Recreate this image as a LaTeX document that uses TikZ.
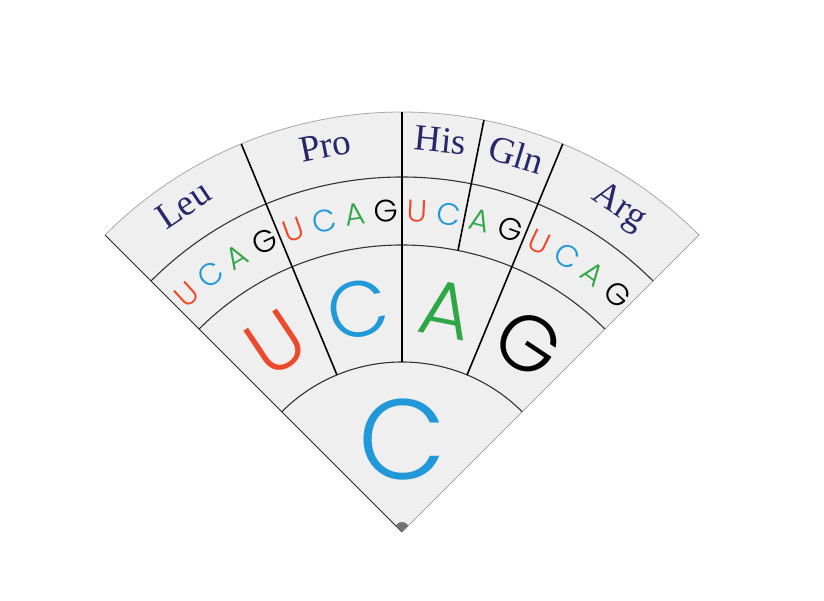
\documentclass[tikz,border=0pt]{standalone}
\usepackage{fontspec}
\setmainfont{Liberation Serif}
\IfFontExistsTF{Poppins Light}{\newfontfamily\basefont{Poppins Light}}{\newfontfamily\basefont{Poppins}}
\usetikzlibrary{positioning}
\definecolor{Card}{HTML}{EFEFEF}
\definecolor{Edge}{HTML}{A8A8A8}
\definecolor{Red}{HTML}{EC4A2C}
\definecolor{Blue}{HTML}{2199D8}
\definecolor{Green}{HTML}{2EA846}
\definecolor{Navy}{HTML}{27276A}

\begin{document}
\begin{tikzpicture}[x=1pt,y=1pt,
  ring/.style={draw=black!80,line width=1.1pt},
  spoke/.style={draw=black,line width=1.6pt},
  firstbase/.style={font=\basefont\fontsize{114}{114}\selectfont,inner sep=0pt},
  bigbase/.style={font=\basefont\fontsize{79}{79}\selectfont,inner sep=0pt},
  smallbase/.style={font=\basefont\fontsize{31}{31}\selectfont,inner sep=0pt},
  amino/.style={font=\fontsize{37}{37}\selectfont,text=Navy,inner sep=0pt,text height=0.66em,text depth=0.2em}
]
\useasboundingbox (0,0) rectangle (824,600);
\begin{scope}[shift={(402,68)}]
% card
\fill[Card] (0,0) -- (45:420) arc[start angle=45,end angle=135,radius=420] -- cycle;
\draw[Edge,line width=0.8pt] (0,0) -- (45:420) arc[start angle=45,end angle=135,radius=420];
\draw[black!85,line width=1pt] (0,0) -- (135:420);
\begin{scope}
\clip (0,0) -- (45:420) arc[start angle=45,end angle=135,radius=420] -- cycle;
\fill[black!55] (90:3) circle (7);
\end{scope}
% rings
\draw[ring] (45:170) arc[start angle=45,end angle=135,radius=170];
\draw[ring] (45:287) arc[start angle=45,end angle=135,radius=287];
\draw[ring] (45:355) arc[start angle=45,end angle=135,radius=355];
% spokes
\draw[spoke] (112.5:170) -- (112.5:420);
\draw[spoke] (90:170) -- (90:420);
\draw[spoke] (67.5:170) -- (67.5:420);
\draw[spoke] (78.75:287) -- (78.75:420);
% first base
\node[firstbase,text=Blue] (firstC) at (90:92) {C};
% second base
\node[bigbase,text=Red,rotate=33.75] (secU) at (123.75:227) {U};
\node[bigbase,text=Blue,rotate=11.25] (secC) at (101.25:227) {C};
\node[bigbase,text=Green,rotate=-11.25] (secA) at (78.75:227) {A};
\node[bigbase,text=black,rotate=-33.75] (secG) at (56.25:227) {G};
% third base, Leu
\node[smallbase,text=Red,rotate=42.19] (leuU) at (132.19:321) {U};
\node[smallbase,text=Blue,rotate=36.56] (leuC) at (126.56:321) {C};
\node[smallbase,text=Green,rotate=30.94] (leuA) at (120.94:321) {A};
\node[smallbase,text=black,rotate=25.31] (leuG) at (115.31:321) {G};
% third base, Pro
\node[smallbase,text=Red,rotate=19.69] (proU) at (109.69:321) {U};
\node[smallbase,text=Blue,rotate=14.06] (proC) at (104.06:321) {C};
\node[smallbase,text=Green,rotate=8.44] (proA) at (98.44:321) {A};
\node[smallbase,text=black,rotate=2.81] (proG) at (92.81:321) {G};
% third base, His / Gln
\node[smallbase,text=Red,rotate=-2.81] (hisU) at (87.19:321) {U};
\node[smallbase,text=Blue,rotate=-8.44] (hisC) at (81.56:321) {C};
\node[smallbase,text=Green,rotate=-14.06] (glnA) at (75.94:321) {A};
\node[smallbase,text=black,rotate=-19.69] (glnG) at (70.31:321) {G};
% third base, Arg
\node[smallbase,text=Red,rotate=-25.31] (argU) at (64.69:321) {U};
\node[smallbase,text=Blue,rotate=-30.94] (argC) at (59.06:321) {C};
\node[smallbase,text=Green,rotate=-36.56] (argA) at (53.44:321) {A};
\node[smallbase,text=black,rotate=-42.19] (argG) at (47.81:321) {G};
% amino acids
\node[amino,rotate=33.75] (leu) at (123.75:384) {Leu};
\node[amino,rotate=11.25] (pro) at (101.25:384) {Pro};
\node[amino,rotate=-5.6] (his) at (84.4:384) {His};
\node[amino,rotate=-16.9] (gln) at (73.1:384) {Gln};
\node[amino,rotate=-33.75] (arg) at (56.25:384) {Arg};
\end{scope}
\end{tikzpicture}
\end{document}
